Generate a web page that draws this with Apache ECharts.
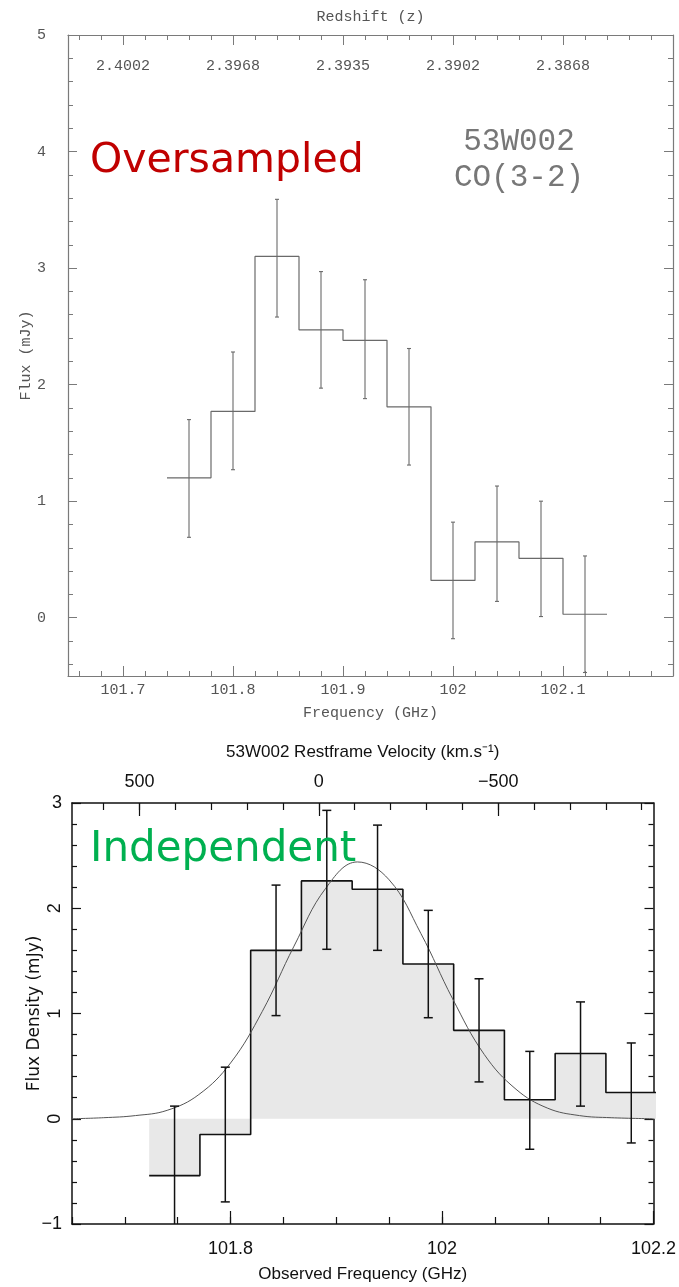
<!DOCTYPE html>
<html>
<head>
<meta charset="utf-8">
<title>53W002 CO(3-2)</title>
<script src="https://cdn.jsdelivr.net/npm/echarts@6/dist/echarts.min.js"></script>
<style>
  html, body { margin: 0; padding: 0; background: #fff; }
  #chart { width: 679px; height: 1287px; }
</style>
</head>
<body>
<div id="chart"></div>
<script>
'use strict';

// ---- top panel (oversampled) ----
var topFreq = [101.76, 101.80, 101.84, 101.88, 101.92, 101.96, 102.00, 102.04, 102.08, 102.12];
var topFlux = [1.20, 1.77, 3.10, 2.47, 2.38, 1.81, 0.32, 0.65, 0.51, 0.03];
var topLow  = [0.69, 1.27, 2.58, 1.97, 1.88, 1.31, -0.18, 0.14, 0.01, -0.47];
var topHigh = [1.70, 2.28, 3.59, 2.97, 2.90, 2.31, 0.82, 1.13, 1.00, 0.53];
var topBinWidth = 0.04;
var topFreqTicks = [101.7, 101.8, 101.9, 102.0, 102.1];
var redshiftLabels = ['2.4002', '2.3968', '2.3935', '2.3902', '2.3868'];
var topFluxTicks = [0, 1, 2, 3, 4, 5];

// ---- bottom panel (independent) ----
var botFreq = [101.747, 101.795, 101.843, 101.891, 101.939, 101.987, 102.035, 102.083, 102.131, 102.179];
var botFlux = [-0.54, -0.15, 1.60, 2.26, 2.18, 1.47, 0.84, 0.18, 0.62, 0.25];
var botLow  = [-1.20, -0.79, 0.98, 1.61, 1.60, 0.96, 0.35, -0.29, 0.12, -0.23];
var botHigh = [0.12, 0.49, 2.22, 2.93, 2.79, 1.98, 1.33, 0.64, 1.11, 0.72];
var botBinWidth = 0.048;
var gaussFreq = [101.65, 101.68, 101.71, 101.74, 101.77, 101.80, 101.83, 101.86, 101.89, 101.92,
                 101.95, 101.98, 102.01, 102.04, 102.07, 102.10, 102.13, 102.16, 102.20];
var gaussFlux = [0.00, 0.01, 0.03, 0.08, 0.23, 0.53, 1.02, 1.64, 2.19, 2.44,
                 2.27, 1.76, 1.14, 0.61, 0.28, 0.10, 0.03, 0.01, 0.00];
var botFreqTicks = [101.8, 102.0, 102.2];
var velocityTicks = [-500, 0, 500];

function ticksBetween(start, stop, step) {
    var out = [];
    for (var v = start; v <= stop + step / 1000; v += step) {
        out.push(Math.round(v * 1000) / 1000);
    }
    return out;
}

function stepPoints(centers, values, width) {
    var pts = [];
    for (var i = 0; i < centers.length; i++) {
        pts.push([centers[i] - width / 2, values[i]]);
        pts.push([centers[i] + width / 2, values[i]]);
    }
    return pts;
}

function barData(centers, low, high) {
    return centers.map(function (c, i) { return [c, low[i], high[i]]; });
}

function errorBars(capHalf, color, width) {
    return function (params, api) {
        var x = api.value(0);
        var lo = api.coord([x, api.value(1)]);
        var hi = api.coord([x, api.value(2)]);
        var st = { stroke: color, lineWidth: width };
        return {
            type: 'group',
            children: [
                { type: 'line', shape: { x1: lo[0], y1: lo[1], x2: hi[0], y2: hi[1] }, style: st },
                { type: 'line', shape: { x1: lo[0] - capHalf, y1: lo[1], x2: lo[0] + capHalf, y2: lo[1] }, style: st },
                { type: 'line', shape: { x1: hi[0] - capHalf, y1: hi[1], x2: hi[0] + capHalf, y2: hi[1] }, style: st }
            ]
        };
    };
}

var grayLine = '#7a7a7a';
var grayText = '#555';
var monoFont = 'Liberation Mono';
var sansFont = 'Liberation Sans';

function lineOn(color, width) {
    return { show: true, onZero: false, lineStyle: { color: color, width: width } };
}
var noLine = { show: false, onZero: false };

function topAxisX(position, ticks, len, extra) {
    var ax = {
        type: 'value', gridIndex: 0, position: position, min: 101.65, max: 102.2,
        splitLine: { show: false },
        axisLine: lineOn(grayLine, 1.2),
        axisTick: { show: true, inside: true, length: len, customValues: ticks, lineStyle: { color: grayLine } },
        axisLabel: { show: false }
    };
    return Object.assign(ax, extra || {});
}

function topAxisY(position, ticks, len, extra) {
    var ax = {
        type: 'value', gridIndex: 0, position: position, min: -0.5, max: 5,
        splitLine: { show: false },
        axisLine: lineOn(grayLine, 1.2),
        axisTick: { show: true, inside: true, length: len, customValues: ticks, lineStyle: { color: grayLine } },
        axisLabel: { show: false }
    };
    return Object.assign(ax, extra || {});
}

var topMinorX = ticksBetween(101.66, 102.18, 0.02);
var topMinorY = ticksBetween(-0.4, 4.8, 0.2);
var botMinorX = ticksBetween(101.65, 102.15, 0.05);
var velMinor = ticksBetween(-900, 600, 100);

var chart = echarts.init(document.getElementById('chart'));

var option = {
    backgroundColor: '#fff',
    animation: false,
    grid: [
        { left: 68, top: 35, width: 605, height: 641 },
        { left: 72, top: 803, width: 582, height: 421 }
    ],
    xAxis: [
        // 0: top panel bottom, labels
        topAxisX('bottom', topFreqTicks, 10, {
            name: 'Frequency (GHz)', nameLocation: 'middle', nameGap: 30,
            nameTextStyle: { fontFamily: monoFont, fontSize: 15, color: grayText },
            axisLabel: {
                show: true, customValues: topFreqTicks, margin: 7,
                fontFamily: monoFont, fontSize: 15, color: grayText
            }
        }),
        // 1: top panel bottom, minor ticks
        topAxisX('bottom', topMinorX, 5, { axisLine: noLine }),
        // 2: top panel top, redshift labels
        topAxisX('top', topFreqTicks, 10, {
            name: 'Redshift (z)', nameLocation: 'middle', nameGap: 10,
            nameTextStyle: { fontFamily: monoFont, fontSize: 15, color: grayText },
            axisLabel: {
                show: true, inside: true, customValues: topFreqTicks, margin: 24,
                fontFamily: monoFont, fontSize: 15, color: grayText,
                formatter: function (v) {
                    for (var i = 0; i < topFreqTicks.length; i++) {
                        if (Math.abs(topFreqTicks[i] - v) < 1e-6) return redshiftLabels[i];
                    }
                    return '';
                }
            }
        }),
        // 3: top panel top, minor ticks
        topAxisX('top', topMinorX, 5, { axisLine: noLine }),
        // 4: bottom panel bottom, labels
        {
            type: 'value', gridIndex: 1, position: 'bottom', min: 101.65, max: 102.2,
            splitLine: { show: false },
            name: 'Observed Frequency (GHz)', nameLocation: 'middle', nameGap: 42,
            nameTextStyle: { fontFamily: sansFont, fontSize: 17, color: '#111' },
            axisLine: lineOn('#111', 1.5),
            axisTick: { show: true, inside: true, length: 13, customValues: botFreqTicks, lineStyle: { color: '#111', width: 1.2 } },
            axisLabel: { show: true, customValues: botFreqTicks, margin: 16, fontFamily: sansFont, fontSize: 18, color: '#111' }
        },
        // 5: bottom panel bottom, minor ticks
        {
            type: 'value', gridIndex: 1, position: 'bottom', min: 101.65, max: 102.2,
            splitLine: { show: false }, axisLine: noLine,
            axisTick: { show: true, inside: true, length: 7, customValues: botMinorX, lineStyle: { color: '#111', width: 1.2 } },
            axisLabel: { show: false }
        },
        // 6: bottom panel top, velocity
        {
            type: 'value', gridIndex: 1, position: 'top', min: -933, max: 688, inverse: true,
            splitLine: { show: false },
            name: '53W002 Restframe Velocity (km.s\u207B\u00B9)', nameLocation: 'middle', nameGap: 42,
            nameTextStyle: { fontFamily: sansFont, fontSize: 17, color: '#111' },
            axisLine: lineOn('#111', 1.5),
            axisTick: { show: true, inside: true, length: 13, customValues: velocityTicks, lineStyle: { color: '#111', width: 1.2 } },
            axisLabel: {
                show: true, customValues: velocityTicks, margin: 12,
                fontFamily: sansFont, fontSize: 18, color: '#111',
                formatter: function (v) { return v < 0 ? '\u2212' + (-v) : String(v); }
            }
        },
        // 7: bottom panel top, velocity minor ticks
        {
            type: 'value', gridIndex: 1, position: 'top', min: -933, max: 688, inverse: true,
            splitLine: { show: false }, axisLine: noLine,
            axisTick: { show: true, inside: true, length: 7, customValues: velMinor, lineStyle: { color: '#111', width: 1.2 } },
            axisLabel: { show: false }
        }
    ],
    yAxis: [
        // 0: top panel left, labels
        topAxisY('left', topFluxTicks, 9, {
            name: 'Flux (mJy)', nameLocation: 'middle', nameGap: 34, nameMoveOverlap: false,
            nameTextStyle: { fontFamily: monoFont, fontSize: 15, color: grayText },
            axisLabel: { show: true, customValues: topFluxTicks, margin: 22, fontFamily: monoFont, fontSize: 15, color: grayText }
        }),
        // 1: top panel left, minor
        topAxisY('left', topMinorY, 5, { axisLine: noLine }),
        // 2: top panel right
        topAxisY('right', topFluxTicks, 9),
        // 3: top panel right, minor
        topAxisY('right', topMinorY, 5, { axisLine: noLine }),
        // 4: bottom panel left, rotated labels
        {
            type: 'value', gridIndex: 1, position: 'left', min: -1, max: 3, interval: 1,
            splitLine: { show: false },
            name: 'Flux Density (mJy)', nameLocation: 'middle', nameGap: 29, nameMoveOverlap: false,
            nameTextStyle: { fontFamily: 'DejaVu Sans', fontSize: 17, color: '#111' },
            axisLine: lineOn('#111', 1.5),
            axisTick: { show: true, inside: true, length: 9, lineStyle: { color: '#111', width: 1.2 } },
            minorTick: { show: true, splitNumber: 5, length: 5, lineStyle: { color: '#111', width: 1.2 } },
            axisLabel: { show: true, customValues: [0, 1, 2], rotate: 90, margin: 8, fontFamily: sansFont, fontSize: 18, color: '#111' }
        },
        // 5: bottom panel left, horizontal end labels
        {
            type: 'value', gridIndex: 1, position: 'left', min: -1, max: 3, interval: 1,
            splitLine: { show: false }, axisLine: noLine, axisTick: { show: false },
            axisLabel: {
                show: true, customValues: [-1, 3], margin: 10, fontFamily: sansFont, fontSize: 18, color: '#111',
                formatter: function (v) { return v < 0 ? '\u2212' + (-v) : String(v); }
            }
        },
        // 6: bottom panel right
        {
            type: 'value', gridIndex: 1, position: 'right', min: -1, max: 3, interval: 1,
            splitLine: { show: false },
            axisLine: lineOn('#111', 1.5),
            axisTick: { show: true, inside: true, length: 9, lineStyle: { color: '#111', width: 1.2 } },
            minorTick: { show: true, splitNumber: 5, length: 5, lineStyle: { color: '#111', width: 1.2 } },
            axisLabel: { show: false }
        }
    ],
    series: [
        {
            name: 'oversampled', type: 'line', xAxisIndex: 0, yAxisIndex: 0,
            data: stepPoints(topFreq, topFlux, topBinWidth),
            symbol: 'none', lineStyle: { color: '#6a6a6a', width: 1.2 }, z: 3
        },
        {
            name: 'oversampled errors', type: 'custom', xAxisIndex: 0, yAxisIndex: 0, clip: true,
            data: barData(topFreq, topLow, topHigh),
            encode: { x: 0, y: [1, 2] },
            renderItem: errorBars(2, '#6a6a6a', 1.1), z: 4
        },
        {
            name: 'independent', type: 'line', xAxisIndex: 4, yAxisIndex: 4,
            data: stepPoints(botFreq, botFlux, botBinWidth),
            symbol: 'none', lineStyle: { color: '#111', width: 1.6 },
            areaStyle: { color: '#e8e8e8', opacity: 1 }, z: 2
        },
        {
            name: 'gaussian fit', type: 'line', xAxisIndex: 4, yAxisIndex: 4,
            data: gaussFreq.map(function (f, i) { return [f, gaussFlux[i]]; }),
            smooth: 0.4, symbol: 'none', lineStyle: { color: '#555', width: 1 }, z: 3
        },
        {
            name: 'independent errors', type: 'custom', xAxisIndex: 4, yAxisIndex: 4, clip: true,
            data: barData(botFreq, botLow, botHigh),
            encode: { x: 0, y: [1, 2] },
            renderItem: errorBars(4.5, '#111', 1.5), z: 4
        }
    ],
    graphic: [
        {
            type: 'text', left: 90, top: 141, z: 10,
            style: { text: 'Oversampled', fill: '#c00000', font: '41px "DejaVu Sans"' }
        },
        {
            type: 'text', x: 519, y: 124, z: 10,
            style: { text: '53W002\nCO(3-2)', fill: '#777', font: '31px "Liberation Mono"', lineHeight: 36, align: 'center' }
        },
        {
            type: 'text', left: 90, top: 829, z: 10,
            style: { text: 'Independent', fill: '#00b050', font: '42px "DejaVu Sans"' }
        }
    ]
};

chart.setOption(option);
</script>
</body>
</html>
